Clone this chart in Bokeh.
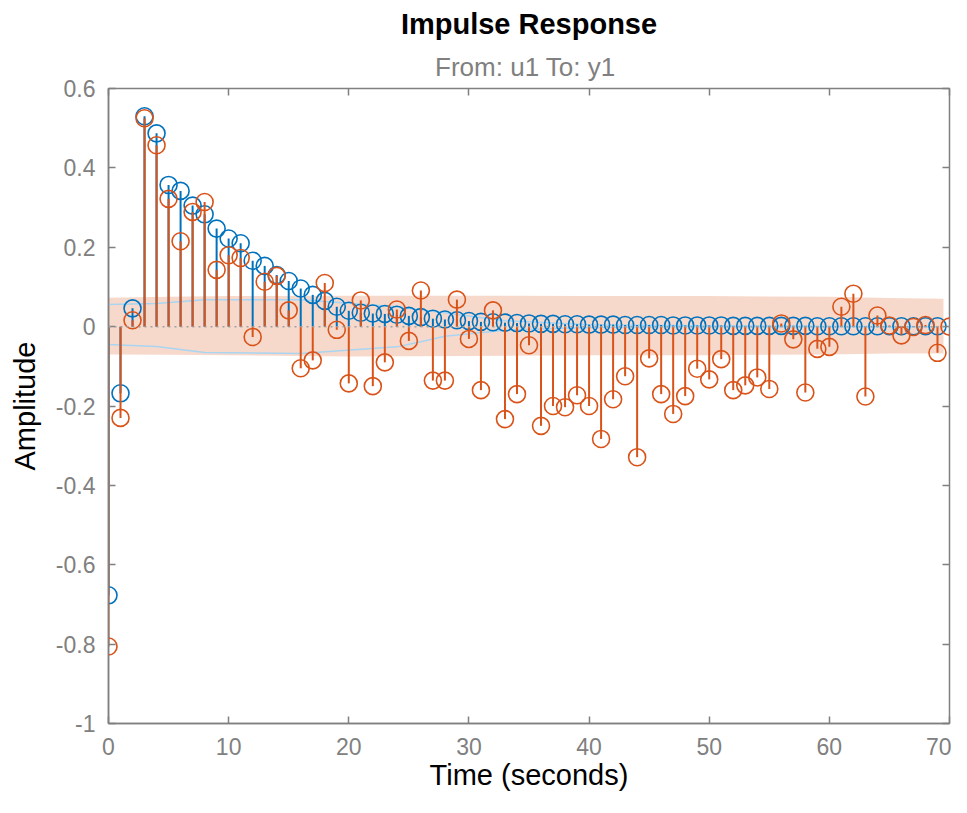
from bokeh.plotting import figure
from bokeh.models import Range1d, FixedTicker, LinearAxis, Title, Span
from bokeh.embed import file_html
from bokeh.resources import INLINE

# ---- data ----
t_blue = list(range(0, 70))
blue_vals = [-0.677, -0.168, 0.046, 0.530, 0.487, 0.357, 0.342, 0.305, 0.283, 0.247,
             0.222, 0.210, 0.166, 0.153, 0.130, 0.115, 0.096, 0.080, 0.065, 0.050,
             0.040, 0.035, 0.033, 0.032, 0.030, 0.027, 0.024, 0.020, 0.018, 0.016,
             0.014, 0.012, 0.011, 0.010, 0.009, 0.008, 0.007, 0.007, 0.006, 0.006,
             0.005, 0.005, 0.005, 0.004, 0.004, 0.004, 0.004, 0.003, 0.003, 0.003,
             0.003, 0.003, 0.002, 0.002, 0.002, 0.002, 0.002, 0.002, 0.002, 0.001,
             0.001, 0.001, 0.001, 0.001, 0.001, 0.001, 0.001, 0.001, 0.001, 0.001]

t_orange = list(range(0, 71))
orange_vals = [-0.806, -0.230, 0.016, 0.525, 0.457, 0.322, 0.215, 0.289, 0.314, 0.143,
               0.180, 0.173, -0.026, 0.113, 0.128, 0.041, -0.105, -0.085, 0.110, -0.008,
               -0.143, 0.066, -0.150, -0.090, 0.043, -0.036, 0.091, -0.136, -0.136, 0.068,
               -0.031, -0.160, 0.041, -0.233, -0.170, -0.047, -0.250, -0.200, -0.203, -0.173,
               -0.200, -0.283, -0.183, -0.125, -0.329, -0.080, -0.170, -0.220, -0.175, -0.106,
               -0.133, -0.082, -0.160, -0.148, -0.128, -0.157, 0.008, -0.032, -0.166, -0.056,
               -0.051, 0.050, 0.083, -0.176, 0.028, 0.003, -0.022, -0.001, 0.004, -0.066,
               0.000]

# confidence (zero-response) region
band_t = [0, 5, 10, 20, 30, 40, 50, 60, 65, 69.5]
band_hi = [0.073, 0.075, 0.077, 0.078, 0.078, 0.077, 0.077, 0.075, 0.072, 0.070]
band_lo = [-0.070, -0.071, -0.072, -0.075, -0.074, -0.072, -0.072, -0.070, -0.068, -0.068]

# light blue bound lines
lb_t = [0, 4, 8, 16, 24, 26, 28, 33, 40, 50, 69]
lb_hi = [0.056, 0.058, 0.068, 0.068, 0.050, 0.042, 0.035, 0.015, 0.005, 0.002, 0.0]
lb_lo = [-0.045, -0.050, -0.065, -0.068, -0.051, -0.038, -0.024, -0.009, -0.002, 0.0, 0.0]

x_ticks = [0, 10, 20, 30, 40, 50, 60, 70]
y_ticks = [-1, -0.8, -0.6, -0.4, -0.2, 0, 0.2, 0.4, 0.6]
y_tick_labels = ["-1", "-0.8", "-0.6", "-0.4", "-0.2", "0", "0.2", "0.4", "0.6"]

BLUE = "#0072BD"
ORANGE = "#D95319"
GRAY = "#808080"
FONT = "Liberation Sans"

p = figure(width=951, height=797, output_backend="svg", toolbar_location=None,
           x_range=Range1d(0, 70), y_range=Range1d(-1, 0.6),
           min_border_left=108, min_border_right=2, min_border_top=88, min_border_bottom=74)
p.title = None
p.grid.visible = False
p.background_fill_color = "white"
p.border_fill_color = "white"
p.outline_line_color = GRAY
p.outline_line_width = 1.5

xax = p.below[0]
yax = p.left[0]

# hidden-label top/right axes for inward ticks on all four sides (added first => closest)
top_ax = LinearAxis(ticker=FixedTicker(ticks=x_ticks), major_tick_in=7, major_tick_out=0,
                    major_tick_line_color=GRAY, major_tick_line_width=1.5,
                    minor_tick_line_color=None, axis_line_color=None,
                    major_label_text_font_size="1px", major_label_text_color=None,
                    major_label_standoff=0)
right_ax = LinearAxis(ticker=FixedTicker(ticks=y_ticks), major_tick_in=7, major_tick_out=0,
                      major_tick_line_color=GRAY, major_tick_line_width=1.5,
                      minor_tick_line_color=None, axis_line_color=None,
                      major_label_text_font_size="1px", major_label_text_color=None,
                      major_label_standoff=0)
p.add_layout(top_ax, "above")
p.add_layout(right_ax, "right")

p.add_layout(Title(text="From: u1  To: y1", align="center", text_font=FONT,
                   text_font_size="26px", text_font_style="normal", text_color=GRAY,
                   standoff=14), "above")
p.add_layout(Title(text="Impulse Response", align="center", text_font=FONT,
                   text_font_size="29px", text_font_style="bold", text_color="black",
                   standoff=6), "above")

# band
p.varea(x=band_t, y1=band_lo, y2=band_hi, fill_color=ORANGE, fill_alpha=0.22)
p.line(lb_t, lb_hi, line_color="#a9d5f2", line_width=1.5)
p.line(lb_t, lb_lo, line_color="#a9d5f2", line_width=1.5)
p.add_layout(Span(location=0, dimension="width", line_color="#a0a0a0",
                  line_dash="2 4", line_width=1.5))

# stems
p.segment(x0=t_blue, y0=[0] * len(t_blue), x1=t_blue, y1=blue_vals,
          line_color=BLUE, line_width=2)
p.scatter(t_blue, blue_vals, marker="circle", size=17, fill_color=None,
          line_color=BLUE, line_width=1.6)
p.segment(x0=t_orange, y0=[0] * len(t_orange), x1=t_orange, y1=orange_vals,
          line_color=ORANGE, line_width=2)
p.scatter(t_orange, orange_vals, marker="circle", size=17, fill_color=None,
          line_color=ORANGE, line_width=1.6)

# axes
for ax in (xax, yax):
    ax.axis_line_color = GRAY
    ax.axis_line_width = 1.5
    ax.major_tick_line_color = GRAY
    ax.major_tick_line_width = 1.5
    ax.major_tick_in = 7
    ax.major_tick_out = 0
    ax.minor_tick_line_color = None
    ax.major_label_text_color = GRAY
    ax.major_label_text_font = FONT
    ax.major_label_text_font_size = "23px"
    ax.axis_label_text_font = FONT
    ax.axis_label_text_font_size = "29px"
    ax.axis_label_text_font_style = "normal"
    ax.axis_label_text_color = "black"

xax.ticker = FixedTicker(ticks=x_ticks)
yax.ticker = FixedTicker(ticks=y_ticks)
yax.major_label_overrides = {v: s for v, s in zip(y_ticks, y_tick_labels)}
xax.axis_label = "Time (seconds)"
yax.axis_label = "Amplitude"
xax.major_label_standoff = 14
yax.major_label_standoff = 13
xax.axis_label_standoff = 1
yax.axis_label_standoff = 12

open("out.html", "w").write(file_html(p, INLINE))
